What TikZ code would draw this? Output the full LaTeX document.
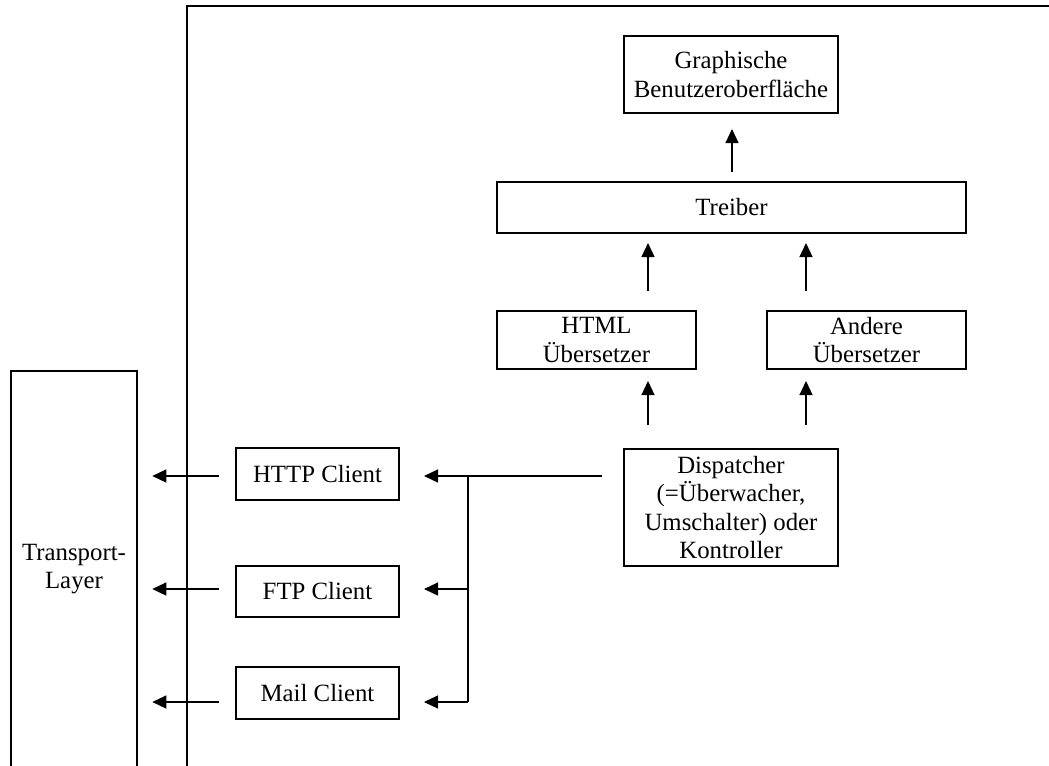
\documentclass[tikz,border=0pt]{standalone}
\usepackage{fontspec}
\setmainfont{Liberation Serif}
\usetikzlibrary{arrows.meta}
\begin{document}
\begin{tikzpicture}[x=0.75pt,y=-0.75pt,
  txt/.style={inner sep=0pt, align=center, font=\fontsize{18.6pt}{21.4pt}\selectfont},
  box/.style={txt, draw, line width=1.5pt},
  conn/.style={line width=0.9pt},
  arr/.style={conn, -{Triangle[length=10.5pt,width=9.75pt]}},
  frame/.style={line width=1.5pt}]
\useasboundingbox (0,0) rectangle (1049,765);

% outer frame of the application (top and left edge)
\coordinate (fbl) at (187,767);
\coordinate (ftl) at (187,6);
\coordinate (ftr) at (1051,6);
\draw[frame] (fbl) -- (ftl) -- (ftr);

% upper stack
\node[box, minimum width={214*0.75pt}, minimum height={77*0.75pt}] (gui) at (731,74.5) {Graphische\\Benutzeroberfläche};
\node[box, minimum width={469*0.75pt}, minimum height={51*0.75pt}] (drv) at (731.5,207.5) {Treiber};
\node[box, minimum width={199*0.75pt}, minimum height={58*0.75pt}] (html) at (596.5,340) {HTML\\Übersetzer};
\node[box, minimum width={199*0.75pt}, minimum height={58*0.75pt}] (other) at (866.5,340) {Andere\\Übersetzer};
\node[box, minimum width={214*0.75pt}, minimum height={117*0.75pt}] (disp) at (731,507.5) {Dispatcher\\(=Überwacher,\\Umschalter) oder\\Kontroller};

% clients
\node[box, minimum width={163*0.75pt}, minimum height={52*0.75pt}] (http) at (317.5,474) {HTTP Client};
\node[box, minimum width={163*0.75pt}, minimum height={51*0.75pt}] (ftp) at (317.5,591.5) {FTP Client};
\node[box, minimum width={163*0.75pt}, minimum height={52*0.75pt}] (mail) at (317.5,693) {Mail Client};

% transport layer (open at the bottom)
\node[txt, minimum width={126*0.75pt}, minimum height={396*0.75pt}] (tl) at (74,569) {Transport-\\Layer};
\draw[frame] (tl.south west) -- (tl.north west) -- (tl.north east) -- (tl.south east);

% columns and rows of the connectors
\coordinate (c0) at (732,0);
\coordinate (c1) at (648,0);
\coordinate (c2) at (806,0);
\coordinate (r1) at (0,476);
\coordinate (r2) at (0,589);
\coordinate (r3) at (0,702);
\coordinate (j1) at (468,476);
\coordinate (j3) at (j1 |- r3);

% upward data flow
\draw[arr, shorten <=6.75pt, shorten >=11.25pt] (c0 |- drv.north) -- (c0 |- gui.south);
\draw[arr, shorten <=14.25pt, shorten >=6.75pt] (c1 |- html.north) -- (c1 |- drv.south);
\draw[arr, shorten <=14.25pt, shorten >=6.75pt] (c2 |- other.north) -- (c2 |- drv.south);
\draw[arr, shorten <=17.25pt, shorten >=8.25pt] (c1 |- disp.north) -- (c1 |- html.south);
\draw[arr, shorten <=17.25pt, shorten >=8.25pt] (c2 |- disp.north) -- (c2 |- other.south);

% dispatcher to the clients
\draw[arr, shorten <=15.75pt, shorten >=18pt] (disp.west |- r1) -- (http.east |- r1);
\draw[conn] (j1) -- (j3);
\draw[arr, shorten >=18pt] (j1 |- r2) -- (ftp.east |- r2);
\draw[arr, shorten >=18pt] (j3) -- (mail.east |- r3);

% clients to the transport layer
\draw[arr, shorten <=12pt, shorten >=11.25pt] (http.west |- r1) -- (tl.east |- r1);
\draw[arr, shorten <=12pt, shorten >=11.25pt] (ftp.west |- r2) -- (tl.east |- r2);
\draw[arr, shorten <=12pt, shorten >=11.25pt] (mail.west |- r3) -- (tl.east |- r3);
\end{tikzpicture}
\end{document}
